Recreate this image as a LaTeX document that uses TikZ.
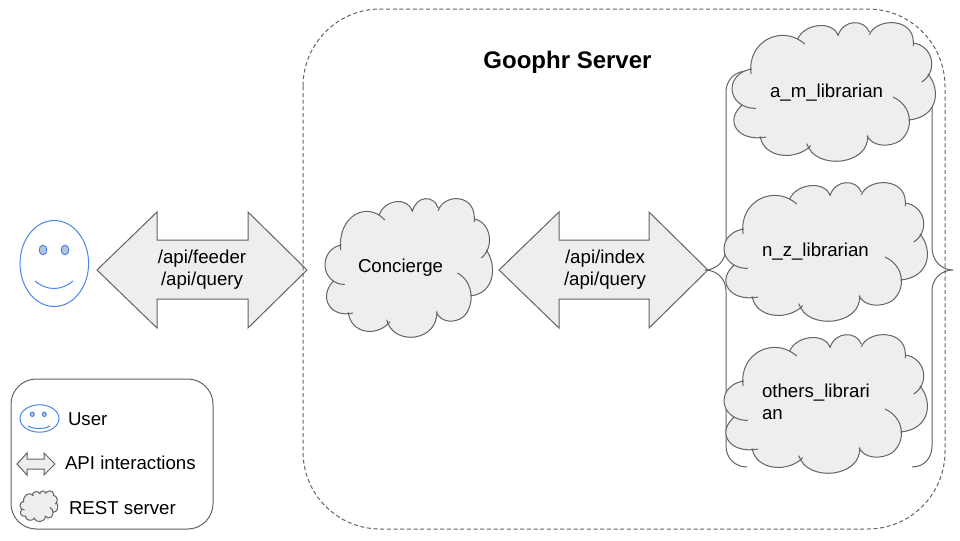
\documentclass[tikz,border=0pt]{standalone}
\usepackage{fontspec}
\setmainfont{Liberation Sans}
\definecolor{ink}{HTML}{636363}
\definecolor{greyfill}{HTML}{EEEEEE}
\definecolor{face}{HTML}{4A86E8}
\definecolor{eye}{HTML}{B7C3D9}
\newcommand{\lobes}[1]{(93,180) .. controls (82,80) and (170,30) .. (225,90) #1
 (207,77) .. controls (222,28) and (295,18) .. (307,65) #1
 (307,65) .. controls (318,16) and (372,14) .. (384,54) #1
 (384,62) .. controls (400,15) and (480,10) .. (491,70) .. controls (492,78) and (493,88) .. (492,96) #1
 (492,87) .. controls (540,95) and (555,170) .. (513,204) #1
 (528,180) .. controls (560,225) and (555,310) .. (480,318) #1
 (442,249) .. controls (490,275) and (495,345) .. (460,380) .. controls (435,400) and (392,400) .. (378,365) #1
 (380,364) .. controls (385,455) and (250,470) .. (230,389) #1
 (240,395) .. controls (205,440) and (125,435) .. (115,367) #1
 (130,369) .. controls (60,385) and (25,320) .. (72,272) #1
 (105,283) .. controls (75,285) and (46,260) .. (46,225) .. controls (46,195) and (65,170) .. (95,165)}
\newcommand{\cloudshape}[4]{\begin{scope}[shift={(#1,#2)},xscale=#3/502,yscale=#4/420,shift={(-46,-27)}]
 \fill[greyfill] \lobes{--} -- cycle;
 \draw[ink,line width=0.75pt] \lobes{};
\end{scope}}
\tikzset{
 label14/.style={inner sep=0pt,outer sep=0pt,text=black,font=\fontsize{14}{16.5}\selectfont},
 blockarrow/.style={fill=greyfill,draw=ink,line width=0.75pt,line join=miter},
 brace/.style={draw=ink,line width=0.75pt},
 smile/.style={draw=face,line width=0.75pt}
}
\begin{document}
\begin{tikzpicture}[x=0.75pt,y=-0.75pt]
\useasboundingbox (0,0) rectangle (960,540);
\fill[white] (0,0) rectangle (960,540);
% block arrows
\draw[blockarrow] (97,270) -- (157,212) -- (157,240) -- (248,240) -- (248,212) -- (307,270) -- (248,328) -- (248,299) -- (157,299) -- (157,328) -- cycle;
\draw[blockarrow] (499,270) -- (559,212) -- (559,240) -- (649,240) -- (649,212) -- (708,270) -- (649,328) -- (649,299) -- (559,299) -- (559,328) -- cycle;
% server boundary
\draw[ink,line width=0.75pt,dash pattern=on 3pt off 2pt,rounded corners=58pt] (303,9) rectangle (945,529);
% braces
\draw[brace] (747,71) .. controls (735,71) and (726,80) .. (726,92) -- (726,248) .. controls (726,260) and (717,270) .. (705,270) .. controls (717,270) and (726,279) .. (726,291) -- (726,446) .. controls (726,458) and (735,467) .. (747,467);
\draw[brace] (912,71) .. controls (924,71) and (932,80) .. (932,92) -- (932,248) .. controls (932,260) and (941,270) .. (953,270) .. controls (941,270) and (932,279) .. (932,291) -- (932,446) .. controls (932,458) and (924,467) .. (912,467);
% clouds
\cloudshape{325}{199}{168}{140}
\cloudshape{732}{23}{204}{140}
\cloudshape{724}{183}{204}{140}
\cloudshape{724}{335}{204}{140}
% user face
\draw[smile] (54.3,263.5) ellipse [x radius=34.3,y radius=43];
\filldraw[smile,fill=eye] (43,250) ellipse [x radius=3.8,y radius=4.8];
\filldraw[smile,fill=eye] (65,250) ellipse [x radius=3.8,y radius=4.8];
\draw[smile] (35,281) .. controls (47,291) and (61,291) .. (73,281);
% legend
\draw[ink,line width=0.75pt,rounded corners=19pt] (11,379) rectangle (213,529);
\draw[smile] (39.5,418.5) ellipse [x radius=19.5,y radius=13.7];
\filldraw[smile,fill=eye] (32.3,414.3) ellipse [x radius=2,y radius=2.2];
\filldraw[smile,fill=eye] (44.3,414.3) ellipse [x radius=2,y radius=2.2];
\draw[smile] (28,426) .. controls (35,429.5) and (43,429.5) .. (50,426);
\draw[blockarrow] (17,464) -- (27,453) -- (27,459) -- (44,459) -- (44,453) -- (55,464) -- (44,475) -- (44,469) -- (27,469) -- (27,475) -- cycle;
\cloudshape{20}{491}{38}{31}
% labels
\node[label14,font=\bfseries\fontsize{18}{22}\selectfont,anchor=base] (title) at (567.5,68) {Goophr Server};
\node[label14,align=center] (feeder) at (202,270) {/api/feeder\\/api/query};
\node[label14,align=center] (index) at (605,270) {/api/index\\/api/query};
\node[label14,anchor=base west] (concierge) at (358,272) {Concierge};
\node[label14,anchor=base west] (am) at (770,97) {a\_m\_librarian};
\node[label14,anchor=base west] (nz) at (762,256) {n\_z\_librarian};
\node[label14,align=left,anchor=west] (others) at (762,402) {others\_librari\\an};
\node[label14,anchor=base west] (luser) at (68,425) {User};
\node[label14,anchor=base west] (lapi) at (65,469) {API interactions};
\node[label14,anchor=base west] (lrest) at (69,514) {REST server};
\end{tikzpicture}
\end{document}
